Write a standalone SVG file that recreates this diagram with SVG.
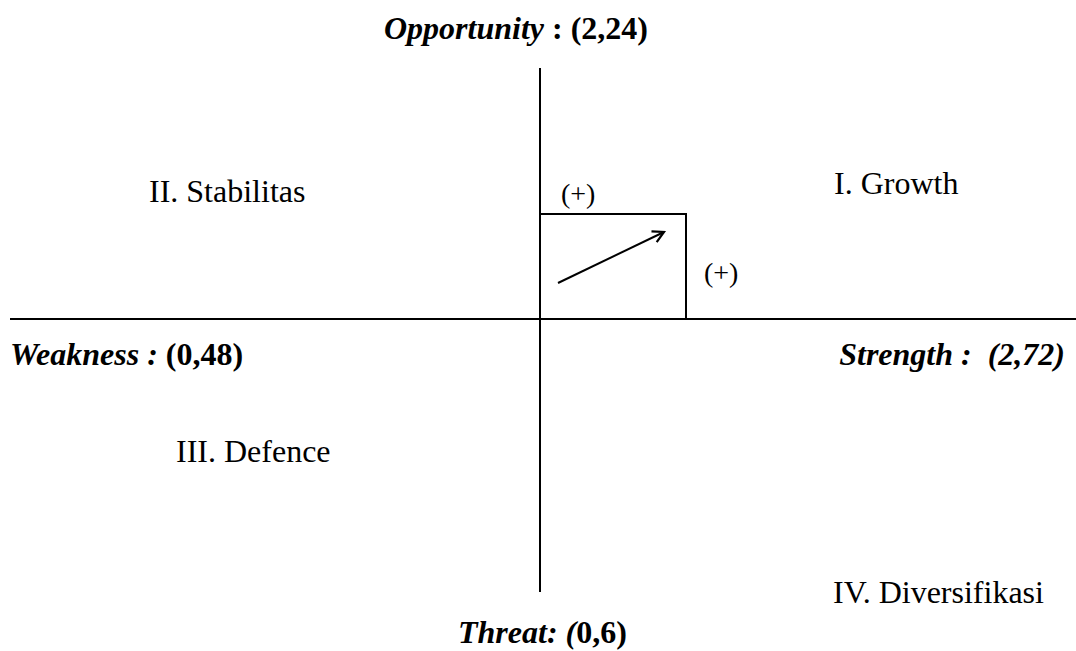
<svg xmlns="http://www.w3.org/2000/svg" width="1076" height="651" viewBox="0 0 1076 651">
<style>
text{font-family:"Liberation Serif","Times New Roman",serif;fill:#000}
.lbl{font-size:32px}
.ax{font-size:32px;font-weight:bold}
.it{font-style:italic}
.pl{font-size:28px}
.ln{stroke:#000;stroke-width:2;fill:none}
</style>
<defs>
<marker id="open" markerWidth="14" markerHeight="14" refX="12" refY="7" orient="auto" markerUnits="userSpaceOnUse">
<path d="M1,1 L12,7 L1,13" fill="none" stroke="#000" stroke-width="2.2"/>
</marker>
</defs>
<rect width="1076" height="651" fill="#fff"/>
<g id="connectors">
<line class="ln" x1="540" y1="68" x2="540" y2="592"/>
<line class="ln" x1="10" y1="319" x2="1076" y2="319"/>
<polyline class="ln" points="540,214 686,214 686,319"/>
<line class="ln" x1="558" y1="283" x2="664" y2="232" stroke-width="2.4" marker-end="url(#open)"/>
</g>
<g id="opportunity"><text class="ax" x="384" y="39"><tspan class="it">Opportunity</tspan> : (2,24)</text></g>
<g id="weakness"><text class="ax" x="10" y="365"><tspan class="it">Weakness :</tspan> (0,48)</text></g>
<g id="strength"><text class="ax it" x="1065" y="365" text-anchor="end" xml:space="preserve">Strength :  (2,72)</text></g>
<g id="threat"><text class="ax" x="458" y="643"><tspan class="it">Threat: (</tspan>0,6)</text></g>
<g id="q1"><text class="lbl" x="834" y="194">I. Growth</text></g>
<g id="q2"><text class="lbl" x="149" y="202">II. Stabilitas</text></g>
<g id="q3"><text class="lbl" x="176" y="462">III. Defence</text></g>
<g id="q4"><text class="lbl" x="833" y="603">IV. Diversifikasi</text></g>
<g id="plus-top"><text class="pl" x="561" y="203">(+)</text></g>
<g id="plus-right"><text class="pl" x="704" y="282">(+)</text></g>
</svg>
